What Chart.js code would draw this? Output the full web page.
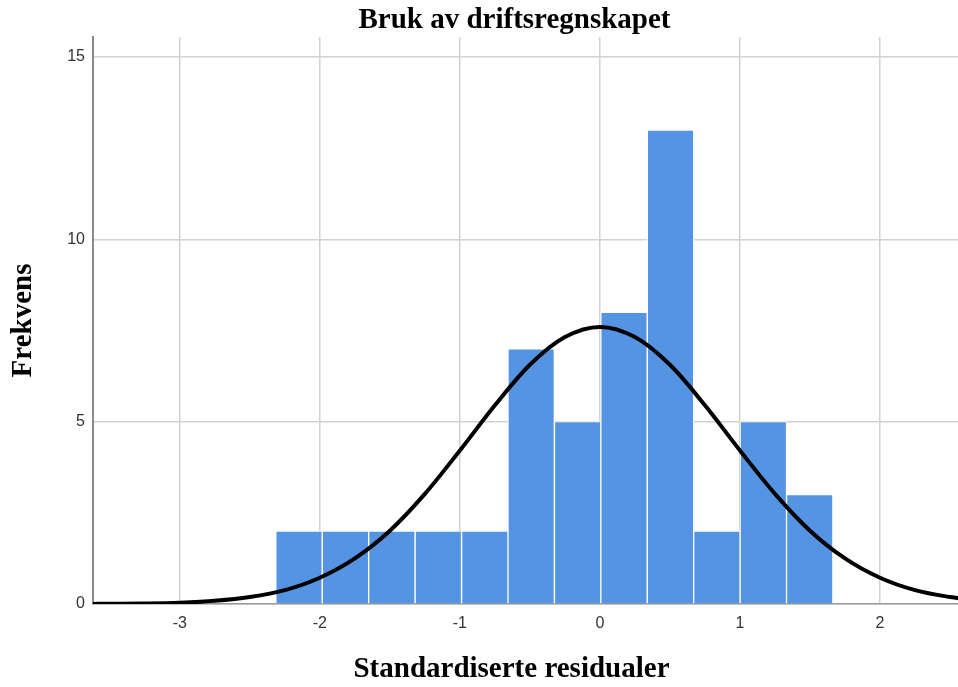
<!DOCTYPE html>
<html>
<head>
<meta charset="utf-8">
<script src="https://cdn.jsdelivr.net/npm/chart.js@4/dist/chart.umd.min.js"></script>
<style>
  html, body { margin: 0; padding: 0; background: #ffffff; }
  #wrap { width: 958px; height: 687px; }
</style>
</head>
<body>
<div id="wrap"><canvas id="c" width="958" height="687"></canvas></div>
<script>
// ---- data ----
const chartTitle = 'Bruk av driftsregnskapet';
const xTitle = 'Standardiserte residualer';
const yTitle = 'Frekvens';

// histogram bins (centres) and frequencies
const binCenters  = [-2.149, -1.817, -1.486, -1.154, -0.822, -0.491, -0.159, 0.172, 0.504, 0.835, 1.167, 1.498];
const frequencies = [2, 2, 2, 2, 2, 7, 5, 8, 13, 2, 5, 3];

// normal curve, points
const curveX = [-3.62, -3.5, -3.25, -3, -2.75, -2.5, -2.25, -2, -1.75, -1.5, -1.25, -1, -0.75, -0.5, -0.25, 0, 0.25, 0.5, 0.75, 1, 1.25, 1.5, 1.75, 2, 2.25, 2.5, 2.56];
const curveY = [0.003, 0.006, 0.015, 0.037, 0.087, 0.19, 0.38, 0.72, 1.25, 2.01, 3.02, 4.21, 5.45, 6.56, 7.32, 7.6, 7.32, 6.56, 5.45, 4.21, 3.02, 2.01, 1.25, 0.72, 0.38, 0.19, 0.16];

// tick labels
const xTicks = [-3, -2, -1, 0, 1, 2];
const yTicks = [0, 5, 10, 15];

// axis ranges
const xMin = -3.62, xMax = 2.557;
const yMin = 0, yMax = 15.55;

// ---- build ----
const barData = binCenters.map((x, i) => ({ x: x, y: frequencies[i] }));
const curveData = curveX.map((x, i) => ({ x: x, y: curveY[i] }));

const titlesPlugin = {
  id: 'titles',
  afterDraw(chart) {
    const ctx = chart.ctx;
    const a = chart.chartArea;
    const cx = (a.left + a.right) / 2;
    ctx.save();
    ctx.fillStyle = '#000';
    ctx.font = 'bold 29px "Liberation Serif", "Times New Roman", serif';
    ctx.textAlign = 'center';
    ctx.textBaseline = 'middle';
    ctx.fillText(chartTitle, cx - 11, 21);
    ctx.fillText(xTitle, cx - 14, chart.height - 17);
    ctx.restore();
  }
};

new Chart(document.getElementById('c'), {
  type: 'bar',
  data: {
    datasets: [
      {
        type: 'line',
        data: curveData,
        borderColor: '#000000',
        borderWidth: 4,
        pointRadius: 0,
        fill: false,
        tension: 0.4,
        cubicInterpolationMode: 'monotone',
        order: 0
      },
      {
        type: 'bar',
        data: barData,
        backgroundColor: '#5594e2',
        borderColor: '#ffffff',
        borderWidth: 1,
        barPercentage: 1,
        categoryPercentage: 1,
        order: 1
      }
    ]
  },
  options: {
    responsive: false,
    animation: false,
    layout: { padding: { top: 37, right: 0, bottom: 0, left: 0 } },
    plugins: {
      legend: { display: false },
      tooltip: { enabled: false },
      title: { display: false }
    },
    scales: {
      x: {
        type: 'linear',
        min: xMin,
        max: xMax,
        offset: false,
        afterBuildTicks: (s) => { s.ticks = xTicks.map(v => ({ value: v })); },
        afterFit: (s) => { s.height = 83; },
        grid: { color: '#d2d2d2', lineWidth: 1.5, drawTicks: false, offset: false },
        border: { color: '#9a9a9a', width: 1.5 },
        ticks: {
          padding: 10,
          color: '#333',
          font: { family: '"Liberation Sans", Arial, sans-serif', size: 16 },
          callback: (v) => String(v)
        }
      },
      y: {
        min: yMin,
        max: yMax,
        afterBuildTicks: (s) => { s.ticks = yTicks.map(v => ({ value: v })); },
        afterFit: (s) => { s.width = 93; },
        grid: { color: '#d2d2d2', lineWidth: 1.5, drawTicks: false },
        border: { color: '#8a8a8a', width: 2 },
        ticks: {
          padding: 8,
          color: '#333',
          font: { family: '"Liberation Sans", Arial, sans-serif', size: 16 },
          callback: (v) => String(v)
        },
        title: {
          display: true,
          text: yTitle,
          color: '#000',
          font: { family: '"Liberation Serif", "Times New Roman", serif', size: 29, weight: 'bold' },
          padding: { top: 6, bottom: 0 }
        }
      }
    }
  },
  plugins: [titlesPlugin]
});
</script>
</body>
</html>
